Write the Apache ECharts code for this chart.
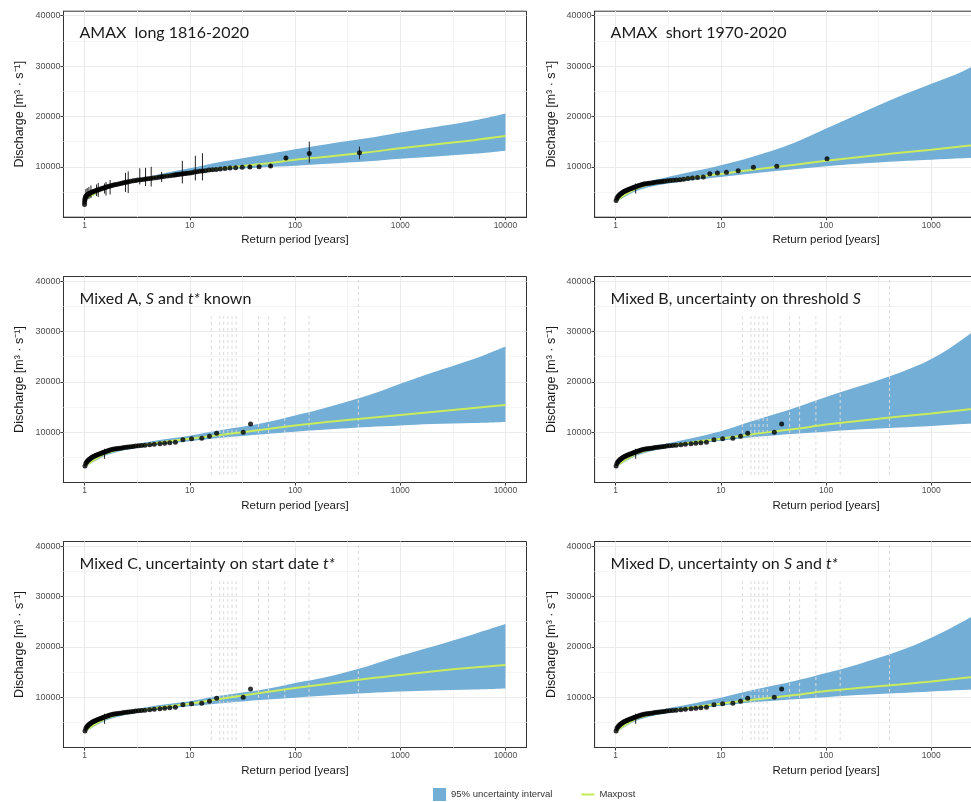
<!DOCTYPE html>
<html>
<head>
<meta charset="utf-8">
<script src="https://cdn.jsdelivr.net/npm/echarts@6/dist/echarts.min.js"></script>
<style>
html,body{margin:0;padding:0;background:#fff;overflow:hidden;width:971px;height:802px}
#chart{width:1100px;height:802px}
</style>
</head>
<body>
<div id="chart"></div>
<script>
// return periods (years) at which the fitted curves are read
const curveT = [1.01, 1.5, 2, 3, 5, 10, 20, 50, 100, 200, 500, 1000, 2000, 5000, 10000];

// AMAX long 1816-2020
const longLower   = [3200, 5300, 6100, 6900, 7700, 8500, 9300, 9900, 10200, 10600, 11100, 11600, 12000, 12600, 13200];
const longUpper   = [3800, 5900, 6700, 7500, 8500, 9700, 11000, 12400, 13500, 14500, 15700, 16800, 17800, 19200, 20600];
const longMaxpost = [3500, 5600, 6400, 7200, 8100, 8900, 9700, 10600, 11400, 12000, 12900, 13700, 14400, 15300, 16100];
const longT = [410, 136.7, 82, 58.6, 45.6, 37.3, 31.5, 27.3, 24.1, 21.6, 19.5, 17.8, 16.4, 15.2, 14.1, 13.2, 12.4, 11.7, 11.1, 10.5,
  10.0, 9.5, 9.1, 8.7, 8.4, 8.0, 7.7, 7.4, 7.2, 6.9, 6.5, 6.1, 5.7, 5.4, 5.1, 4.8, 4.5, 4.25, 4.0, 3.8,
  3.6, 3.4, 3.2, 3.05, 2.9, 2.75, 2.6, 2.5, 2.4, 2.3, 2.2, 2.1, 2.0, 1.92, 1.85, 1.78, 1.71, 1.65, 1.59, 1.54,
  1.49, 1.44, 1.39, 1.35, 1.31, 1.27, 1.23, 1.2, 1.17, 1.14, 1.11, 1.09, 1.07, 1.05, 1.035, 1.02, 1.012, 1.006, 1.002, 1.0];
const longQ = [12780, 12650, 11750, 10150, 10000, 9950, 9900, 9800, 9750, 9650, 9550, 9450, 9400, 9350, 9200, 9150, 9100, 9000, 8950, 8850,
  8800, 8750, 8700, 8650, 8600, 8550, 8500, 8450, 8400, 8350, 8250, 8200, 8100, 8050, 7950, 7850, 7800, 7700, 7650, 7600,
  7500, 7450, 7400, 7300, 7250, 7150, 7050, 6950, 6900, 6800, 6700, 6600, 6500, 6450, 6350, 6250, 6150, 6050, 5950, 5850,
  5750, 5650, 5550, 5450, 5350, 5250, 5150, 5050, 4950, 4850, 4700, 4600, 4500, 4350, 4200, 4000, 3700, 3400, 3000, 2500];
const longBarT    = [410, 136.7, 82, 58.6, 37.3, 13.2, 11.3, 8.5, 5.4, 4.3, 3.8, 3.35, 2.6, 2.45, 1.75, 1.6, 1.55, 1.35, 1.3, 1.15, 1.1, 1.06, 1.03];
const longBarLow  = [11500, 10800, 11300, 9800, 9600, 7300, 7300, 6700, 7000, 6100, 6200, 6500, 4800, 5000, 4500, 4300, 4700, 4000, 4200, 3800, 3600, 3700, 3300];
const longBarHigh = [14000, 15000, 12200, 10600, 10400, 12700, 12200, 11200, 9000, 10000, 9800, 9700, 9100, 8800, 7400, 7000, 6700, 6800, 6500, 6300, 6000, 5800, 5600];

// AMAX short 1970-2020
const shortLower   = [3000, 5000, 5900, 6600, 7300, 8000, 8700, 9500, 10100, 10600, 11100, 11400, 11700, 12000, 12300];
const shortUpper   = [3600, 6000, 7000, 7900, 8900, 10300, 12000, 14800, 17600, 20400, 24000, 26500, 29000, 33500, 37000];
const shortMaxpost = [3300, 5500, 6400, 7100, 7800, 8600, 9400, 10400, 11200, 11900, 12800, 13400, 14100, 15000, 15800];
const shortT = [102, 34, 20.4, 14.6, 11.3, 9.27, 7.85, 6.8, 6.0, 5.37, 4.86, 4.43, 4.08,
  3.78, 3.52, 3.29, 3.09, 2.91, 2.76, 2.62, 2.49, 2.37, 2.27, 2.17, 2.08, 2.0, 1.92, 1.85, 1.79, 1.73, 1.67, 1.62, 1.57,
  1.52, 1.48, 1.44, 1.40, 1.36, 1.32, 1.29, 1.26, 1.23, 1.20, 1.17, 1.145, 1.12, 1.097, 1.074, 1.052, 1.03, 1.01];
const shortQ = [11600, 10100, 9900, 9200, 8900, 8800, 8650, 8000, 7900, 7800, 7700, 7550, 7450,
  7400, 7350, 7300, 7250, 7150, 7100, 7050, 7000, 6950, 6850, 6800, 6750, 6700, 6650, 6600, 6500, 6400, 6300, 6200, 6100,
  6000, 5900, 5800, 5700, 5600, 5500, 5400, 5300, 5200, 5100, 4950, 4800, 4650, 4500, 4300, 4100, 3800, 3300];

// systematic record as plotted in the mixed panels
const mixedT = [37.8, 32.2, 18, 15.4, 13, 10.4, 8.6, 7.3, 6.45, 5.78, 5.2, 4.6, 4.16,
  3.75, 3.48, 3.25, 3.06, 2.89, 2.74, 2.6, 2.48, 2.36, 2.26, 2.16, 2.07, 1.99, 1.92, 1.85, 1.78, 1.72, 1.67, 1.62, 1.57,
  1.52, 1.48, 1.44, 1.4, 1.36, 1.32, 1.29, 1.26, 1.23, 1.2, 1.17, 1.145, 1.12, 1.097, 1.074, 1.052, 1.03, 1.01];
const mixedQ = [11600, 10000, 9800, 9200, 8800, 8700, 8500, 8000, 7900, 7800, 7700, 7600, 7500,
  7400, 7350, 7300, 7250, 7150, 7100, 7050, 7000, 6950, 6850, 6800, 6750, 6700, 6650, 6600, 6500, 6400, 6300, 6200, 6100,
  6000, 5900, 5800, 5700, 5600, 5500, 5400, 5300, 5200, 5100, 4950, 4800, 4650, 4500, 4300, 4100, 3800, 3300];

// one gauged value with its error bar, shown in the short and mixed panels
const crossT = [1.55];
const crossLow = [4700];
const crossHigh = [6700];

// historical floods: dashed verticals in the mixed panels
const histT = [16, 19.3, 21, 23, 25.2, 27.6, 45, 56, 80, 136, 400];
const histBottom = [1500, 1500, 1500, 1500, 1500, 1500, 1500, 1500, 1500, 1500, 1500];
const histTop = [33000, 33000, 33000, 33000, 33000, 33000, 33000, 33000, 33000, 33000, 40500];

const mixALower   = [3000, 5100, 6000, 6800, 7500, 8200, 8900, 9600, 10100, 10500, 11000, 11300, 11600, 11800, 12000];
const mixAUpper   = [3600, 5900, 6800, 7600, 8400, 9300, 10400, 11800, 13300, 14900, 17300, 19600, 21800, 24500, 27000];
const mixAMaxpost = [3300, 5500, 6400, 7200, 7900, 8700, 9500, 10500, 11300, 12000, 12800, 13400, 14000, 14800, 15400];

const mixBLower   = [3000, 5100, 6000, 6800, 7500, 8300, 9000, 9700, 10100, 10500, 10900, 11200, 11600, 11900, 12200];
const mixBUpper   = [3600, 5900, 6800, 7700, 8700, 10200, 12200, 14800, 17000, 19000, 21800, 24500, 28500, 35000, 40000];
const mixBMaxpost = [3300, 5500, 6400, 7200, 7900, 8700, 9600, 10600, 11500, 12200, 13100, 13700, 14400, 15300, 16000];

const mixCLower   = [3000, 5100, 6000, 6800, 7500, 8200, 8800, 9500, 9900, 10300, 10800, 11100, 11300, 11500, 11700];
const mixCUpper   = [3600, 5900, 6800, 7600, 8400, 9200, 10300, 11500, 12800, 14000, 16200, 18200, 20000, 22500, 24500];
const mixCMaxpost = [3300, 5500, 6400, 7200, 7900, 8700, 9700, 10900, 11800, 12600, 13700, 14400, 15100, 15900, 16400];

const mixDLower   = [3000, 5100, 6000, 6800, 7500, 8300, 9000, 9600, 10000, 10400, 10800, 11100, 11400, 11700, 12000];
const mixDUpper   = [3600, 5900, 6800, 7700, 8600, 9900, 11400, 13200, 14800, 16500, 19200, 21800, 25000, 30000, 34500];
const mixDMaxpost = [3300, 5500, 6400, 7200, 7900, 8700, 9500, 10400, 11200, 11800, 12500, 13100, 13800, 14600, 15200];

// grid lines (ggplot theme_bw style)
const xMajor = [1, 10, 100, 1000, 10000];
const xMinor = [3.162, 31.62, 316.2, 3162];
const yMajor = [10000, 20000, 30000, 40000];
const yMinor = [5000, 15000, 25000, 35000];

const BLUE = '#72AED6';
const GREEN = '#C9EC5C';
const TXT = 'Liberation Sans';

const panels = [
  {title: 'AMAX  long 1816-2020', lower: longLower, upper: longUpper, maxpost: longMaxpost,
   T: longT, Q: longQ, barT: longBarT, barLow: longBarLow, barHigh: longBarHigh, hist: false},
  {title: 'AMAX  short 1970-2020', lower: shortLower, upper: shortUpper, maxpost: shortMaxpost,
   T: shortT, Q: shortQ, barT: crossT, barLow: crossLow, barHigh: crossHigh, hist: false},
  {title: 'Mixed A, {i|S} and {i|t*} known', lower: mixALower, upper: mixAUpper, maxpost: mixAMaxpost,
   T: mixedT, Q: mixedQ, barT: crossT, barLow: crossLow, barHigh: crossHigh, hist: true},
  {title: 'Mixed B, uncertainty on threshold {i|S}', lower: mixBLower, upper: mixBUpper, maxpost: mixBMaxpost,
   T: mixedT, Q: mixedQ, barT: crossT, barLow: crossLow, barHigh: crossHigh, hist: true},
  {title: 'Mixed C, uncertainty on start date {i|t*}', lower: mixCLower, upper: mixCUpper, maxpost: mixCMaxpost,
   T: mixedT, Q: mixedQ, barT: crossT, barLow: crossLow, barHigh: crossHigh, hist: true},
  {title: 'Mixed D, uncertainty on {i|S} and {i|t*}', lower: mixDLower, upper: mixDUpper, maxpost: mixDMaxpost,
   T: mixedT, Q: mixedQ, barT: crossT, barLow: crossLow, barHigh: crossHigh, hist: true}
];

const colLeft = [63.5, 594.6];
const rowTop = [11.2, 276.5, 541.5];
const gridW = 463;
const gridH = 206;

const grids = [], xAxes = [], yAxes = [], titles = [], series = [];

const majorLine = {color: '#EBEBEB', width: 1, type: 'solid'};
const minorLine = {color: '#F5F5F5', width: 1, type: 'solid'};

panels.forEach((p, i) => {
  const col = i % 2, row = Math.floor(i / 2);
  grids.push({left: colLeft[col], top: rowTop[row], width: gridW, height: gridH,
    show: true, borderColor: '#333', borderWidth: 1, backgroundColor: '#fff'});
  xAxes.push({
    type: 'log', logBase: 10, gridIndex: i, min: 0.631, max: 15849,
    name: 'Return period [years]', nameLocation: 'middle', nameGap: 17,
    nameTextStyle: {fontFamily: TXT, fontSize: 11.5, color: '#1A1A1A'},
    axisLine: {show: true, lineStyle: {color: '#333', width: 1}},
    axisTick: {show: true, length: 3, lineStyle: {color: '#333'}},
    axisLabel: {fontFamily: TXT, fontSize: 8.5, color: '#4D4D4D', margin: 4,
      showMinLabel: false, showMaxLabel: false, formatter: v => String(Math.round(v))},
    splitLine: {show: false}
  });
  yAxes.push({
    type: 'value', gridIndex: i, min: 0, max: 40900, interval: 10000,
    name: 'Discharge [m\u00B3 \u00B7 s\u207B\u00B9]', nameLocation: 'middle', nameGap: 37, nameRotate: 90,
    nameTextStyle: {fontFamily: TXT, fontSize: 12.5, color: '#1A1A1A'},
    axisLine: {show: true, lineStyle: {color: '#333', width: 1}},
    axisTick: {show: true, length: 3, lineStyle: {color: '#333'}},
    axisLabel: {fontFamily: TXT, fontSize: 9, color: '#4D4D4D', margin: 3,
      showMinLabel: false, showMaxLabel: false, formatter: v => String(v)},
    splitLine: {show: false}
  });
  titles.push({
    text: p.title, left: colLeft[col] + 16, top: rowTop[row] + 14, padding: 0,
    textStyle: {fontFamily: 'Lato', fontSize: 16, fontWeight: 'normal', color: '#1A1A1A',
      rich: {i: {fontFamily: 'Lato', fontSize: 16, fontStyle: 'italic', color: '#1A1A1A'}}}
  });

  // background grid, kept under the band
  series.push({
    type: 'line', xAxisIndex: i, yAxisIndex: i, data: [], z: 1, silent: true,
    markLine: {
      z: 1, silent: true, symbol: ['none', 'none'], label: {show: false}, animation: false,
      data: [].concat(
        xMinor.map(v => ({xAxis: v, lineStyle: minorLine})),
        yMinor.map(v => ({yAxis: v, lineStyle: minorLine})),
        xMajor.map(v => ({xAxis: v, lineStyle: majorLine})),
        yMajor.map(v => ({yAxis: v, lineStyle: majorLine}))
      )
    }
  });

  // uncertainty band as a stacked area; discharge is put first so that it is the stacked dimension
  series.push({
    type: 'line', name: 'band base', xAxisIndex: i, yAxisIndex: i, stack: 'band' + i, z: 2,
    data: curveT.map((t, k) => [p.lower[k], t]), encode: {x: 1, y: 0},
    symbol: 'none', smooth: 0.35, lineStyle: {opacity: 0}, silent: true
  });
  series.push({
    type: 'line', name: '95% uncertainty interval', xAxisIndex: i, yAxisIndex: i, stack: 'band' + i, z: 2,
    data: curveT.map((t, k) => [p.upper[k] - p.lower[k], t]), encode: {x: 1, y: 0},
    symbol: 'none', smooth: 0.35,
    lineStyle: {opacity: 0}, itemStyle: {color: BLUE}, areaStyle: {color: BLUE, opacity: 1}, silent: true
  });

  if (p.hist) {
    series.push({
      type: 'custom', xAxisIndex: i, yAxisIndex: i, z: 3, silent: true,
      dimensions: ['t', 'lo', 'hi'], encode: {x: 't', y: ['lo', 'hi']},
      data: histT.map((t, k) => [t, histBottom[k], histTop[k]]),
      renderItem: (params, api) => {
        const a = api.coord([api.value(0), api.value(1)]);
        const b = api.coord([api.value(0), api.value(2)]);
        return {type: 'line', shape: {x1: a[0], y1: a[1], x2: b[0], y2: b[1]},
          style: {stroke: '#DADADA', lineWidth: 1, lineDash: [3, 3]}};
      }
    });
  }

  series.push({
    type: 'line', name: 'Maxpost', xAxisIndex: i, yAxisIndex: i, z: 4,
    data: curveT.map((t, k) => [t, p.maxpost[k]]), symbol: 'none', smooth: 0.35,
    lineStyle: {color: GREEN, width: 2}, itemStyle: {color: GREEN}, silent: true
  });

  series.push({
    type: 'custom', xAxisIndex: i, yAxisIndex: i, z: 5, silent: true,
    dimensions: ['t', 'lo', 'hi'], encode: {x: 't', y: ['lo', 'hi']},
    data: p.barT.map((t, k) => [t, p.barLow[k], p.barHigh[k]]),
    renderItem: (params, api) => {
      const a = api.coord([api.value(0), api.value(1)]);
      const b = api.coord([api.value(0), api.value(2)]);
      return {type: 'line', shape: {x1: a[0], y1: a[1], x2: b[0], y2: b[1]},
        style: {stroke: '#222', lineWidth: 1}};
    }
  });

  series.push({
    type: 'scatter', xAxisIndex: i, yAxisIndex: i, z: 6, silent: true,
    data: p.T.map((t, k) => [t, p.Q[k]]), symbolSize: 5,
    itemStyle: {color: '#000'}
  });
});

const chart = echarts.init(document.getElementById('chart'), null, {renderer: 'canvas'});
chart.setOption({
  animation: false,
  backgroundColor: '#fff',
  title: titles,
  grid: grids,
  xAxis: xAxes,
  yAxis: yAxes,
  legend: {
    left: 433, top: 788, padding: 0, itemWidth: 13, itemHeight: 13, itemGap: 29,
    textStyle: {fontFamily: TXT, fontSize: 9.5, color: '#333'},
    data: [
      {name: '95% uncertainty interval', icon: 'rect', itemStyle: {color: BLUE}},
      {name: 'Maxpost', icon: 'path://M0,0 L12,0 L12,2 L0,2 Z', itemStyle: {color: GREEN}}
    ],
    selectedMode: false
  },
  series: series
});
</script>
</body>
</html>
